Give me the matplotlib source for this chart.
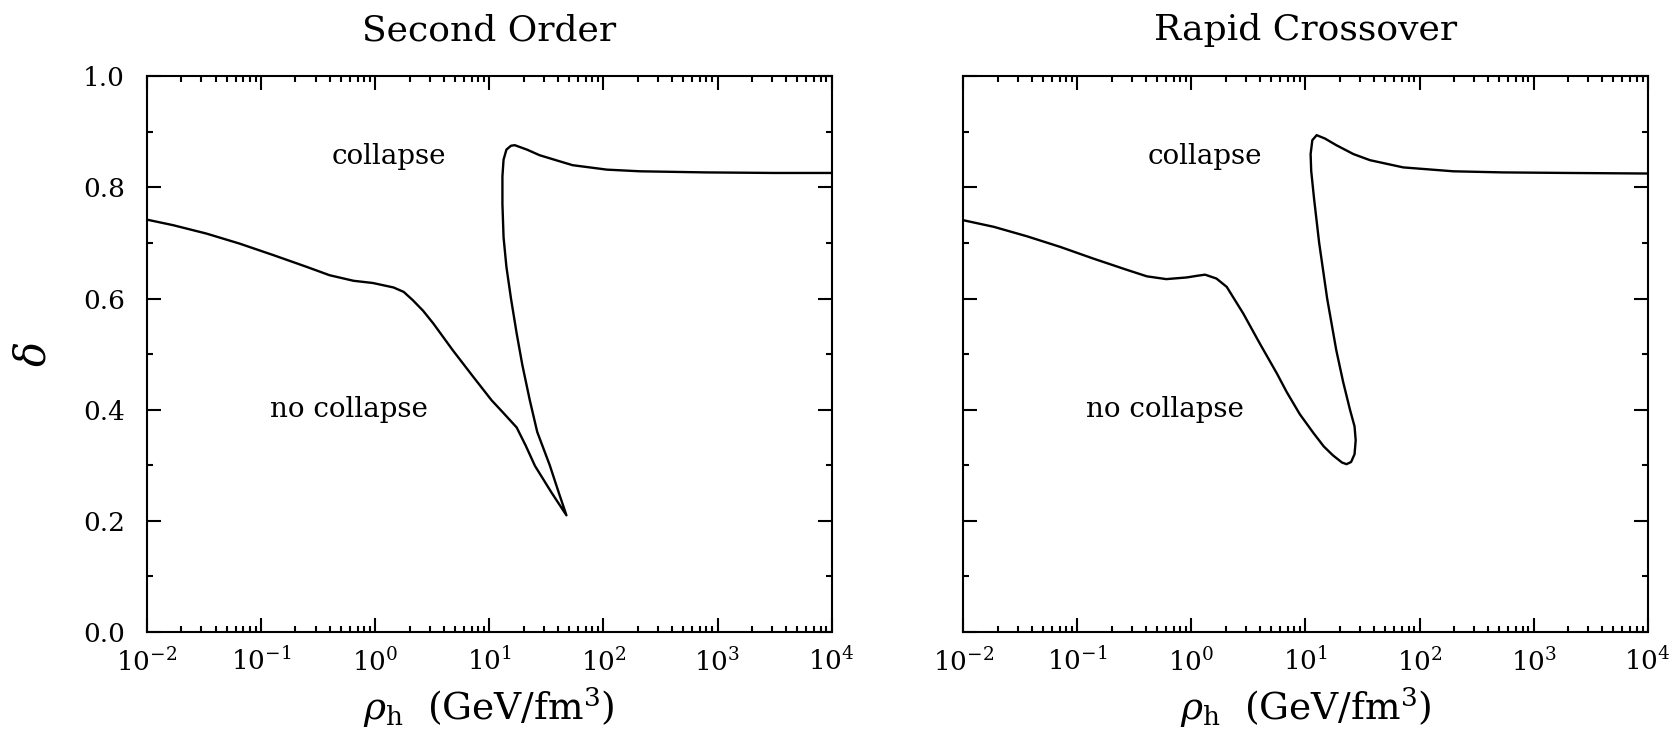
import numpy as np
import matplotlib
matplotlib.use('Agg')
import matplotlib.pyplot as plt
from matplotlib.ticker import LogLocator, MultipleLocator, NullFormatter

plt.rcParams['font.family'] = ['DejaVu Serif']
plt.rcParams['mathtext.fontset'] = 'dejavuserif'

# boundary curves: log10(rho_h) and delta
# second order transition (lower branch then upper branch)
log_rho_second = [-2.0, -1.77, -1.48, -1.19, -0.89, -0.60, -0.40, -0.19, -0.02, 0.16,
                  0.25, 0.33, 0.42, 0.51, 0.68, 0.86, 1.02, 1.12, 1.24, 1.32, 1.40, 1.545, 1.676,
                  1.61, 1.53, 1.42, 1.355, 1.29, 1.24, 1.19, 1.15, 1.125, 1.115, 1.115,
                  1.125, 1.15, 1.19, 1.223, 1.33, 1.44, 1.6, 1.73, 2.03, 2.32, 2.9, 3.5, 4.0]
delta_second = [0.742, 0.732, 0.717, 0.699, 0.678, 0.657, 0.642, 0.632, 0.628, 0.620,
                0.612, 0.597, 0.578, 0.555, 0.507, 0.459, 0.417, 0.395, 0.368, 0.335, 0.299, 0.251, 0.21,
                0.25, 0.30, 0.36, 0.417, 0.48, 0.537, 0.60, 0.657, 0.71, 0.77, 0.82,
                0.85, 0.868, 0.875, 0.876, 0.868, 0.858, 0.848, 0.840, 0.832, 0.829, 0.827, 0.826, 0.826]

# rapid crossover
log_rho_cross = [-2.0, -1.73, -1.44, -1.15, -0.86, -0.57, -0.39, -0.22, -0.04, 0.05,
                 0.12, 0.22, 0.31, 0.455, 0.60, 0.75, 0.835, 0.95, 1.07, 1.16, 1.24, 1.32, 1.36,
                 1.40, 1.43, 1.44, 1.43, 1.39, 1.33, 1.27, 1.19, 1.12, 1.075, 1.05,
                 1.045, 1.06, 1.098, 1.17, 1.27, 1.42, 1.565, 1.857, 2.295, 2.73, 3.3, 4.0]
delta_cross = [0.741, 0.729, 0.712, 0.693, 0.672, 0.652, 0.640, 0.635, 0.638, 0.641,
               0.643, 0.636, 0.621, 0.573, 0.519, 0.465, 0.432, 0.392, 0.358, 0.334, 0.318, 0.305, 0.302,
               0.306, 0.32, 0.345, 0.37, 0.40, 0.45, 0.507, 0.60, 0.70, 0.78, 0.83,
               0.86, 0.885, 0.894, 0.888, 0.876, 0.86, 0.849, 0.836, 0.829, 0.827, 0.826, 0.825]

titles = ['Second Order', 'Rapid Crossover']
curves = [(log_rho_second, delta_second), (log_rho_cross, delta_cross)]

fig = plt.figure(figsize=(16.78, 7.44), dpi=100)
ax1 = fig.add_axes([0.0876, 0.1505, 0.408, 0.747])
ax2 = fig.add_axes([0.574, 0.1505, 0.408, 0.747])

for ax, title, (lx, dl) in zip([ax1, ax2], titles, curves):
    ax.plot(10**np.array(lx), dl, color='black', lw=1.7)
    ax.set_xscale('log')
    ax.set_xlim(1e-2, 1e4)
    ax.set_ylim(0, 1)
    ax.xaxis.set_major_locator(LogLocator(base=10, numticks=10))
    ax.xaxis.set_minor_locator(LogLocator(base=10, subs=np.arange(2, 10), numticks=20))
    ax.xaxis.set_minor_formatter(NullFormatter())
    ax.yaxis.set_major_locator(MultipleLocator(0.2))
    ax.yaxis.set_minor_locator(MultipleLocator(0.1))
    ax.yaxis.set_major_formatter(plt.FuncFormatter(lambda v, p: '%.1f' % v))
    ax.tick_params(which='both', direction='in', top=True, right=True, width=1.5)
    ax.tick_params(which='major', length=10, labelsize=19)
    ax.tick_params(which='minor', length=4.5)
    ax.tick_params(axis='x', pad=11)
    ax.tick_params(axis='y', pad=16)
    for s in ax.spines.values():
        s.set_linewidth(1.5)
    ax.set_title(title, fontsize=26, pad=26)
    ax.set_xlabel(r'$\rho_{\rm h}$  (GeV/fm$^3$)', fontsize=27, labelpad=7)
    ax.text(10**0.12, 0.856, 'collapse', fontsize=20, ha='center', va='center')
    ax.text(10**-0.23, 0.40, 'no collapse', fontsize=20, ha='center', va='center')

ax1.set_ylabel(r'$\delta$', fontsize=30, labelpad=20)
ax2.yaxis.set_major_formatter(NullFormatter())

fig.savefig('out.png', dpi=100)
